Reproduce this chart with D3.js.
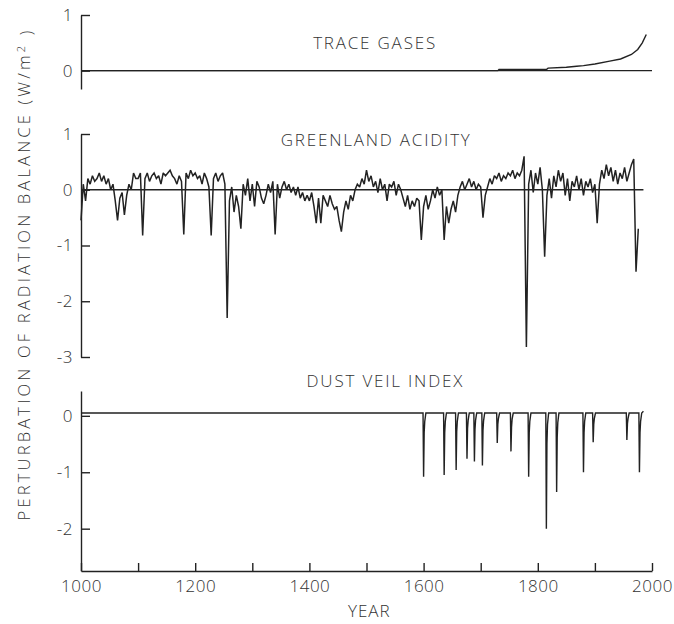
<!DOCTYPE html>
<html>
<head>
<meta charset="utf-8">
<script src="https://cdn.jsdelivr.net/npm/d3@7"></script>
<style>
  body { margin: 0; background: #fff; }
  text { font-family: "Open Sans", "DejaVu Sans", sans-serif; font-weight: 300; fill: #333; }
</style>
</head>
<body>
<script>
// ---- data ----
// trace gases forcing (W/m2)
var traceYears  = [1000, 1730, 1732, 1815, 1818, 1850, 1868, 1880, 1900, 1926, 1945, 1964, 1975, 1983, 1990];
var traceValues = [0, 0, 0.02, 0.02, 0.045, 0.06, 0.08, 0.09, 0.12, 0.17, 0.21, 0.29, 0.38, 0.5, 0.65];

// greenland acidity, one value every 4 years from 1000 to 1976
var greenlandStart = 1000, greenlandStep = 4;
var greenlandValues = [
  -0.55, 0.1, -0.2, 0.2, 0.1, 0.25, 0.15, 0.2, 0.3, 0.15, 0.25, 0.1, 0.2, 0.0, 0.1, -0.2, -0.55, -0.15, -0.05, -0.45, -0.1, 0.1, 0.0, 0.3, 0.2,
  0.2, 0.3, -0.82, 0.2, 0.3, 0.15, 0.25, 0.3, 0.2, 0.25, 0.1, 0.3, 0.25, 0.3, 0.35, 0.25, 0.2, 0.1, 0.25, 0.15, -0.8, 0.3, 0.2, 0.35, 0.25,
  0.3, 0.2, 0.25, 0.1, 0.3, 0.2, 0.05, -0.82, 0.2, 0.3, 0.15, 0.25, 0.3, 0.1, -2.3, -0.2, 0.05, -0.4, -0.1, -0.3, -0.7, 0.1, -0.1, 0.2, -0.2,
  0.1, -0.3, 0.15, 0.05, -0.15, -0.25, -0.1, 0.1, -0.05, 0.15, -0.8, 0.1, -0.15, 0.05, 0.15, 0.0, 0.1, -0.05, 0.05, -0.1, 0.05, -0.15, -0.05, -0.2, -0.1,
  -0.2, -0.05, -0.3, -0.6, -0.15, -0.6, -0.1, -0.2, -0.3, -0.1, -0.25, -0.35, -0.3, -0.55, -0.75, -0.4, -0.2, -0.35, -0.1, -0.2, 0.0, 0.1, 0.05, 0.2, 0.1,
  0.35, 0.15, 0.25, 0.05, 0.15, -0.05, 0.2, 0.0, 0.1, -0.2, 0.1, 0.05, 0.15, -0.1, 0.1, 0.0, -0.15, -0.3, -0.1, -0.35, -0.2, -0.3, -0.15, -0.2, -0.9,
  -0.3, -0.1, -0.35, -0.2, 0.0, -0.15, 0.05, -0.1, 0.0, -0.9, -0.3, -0.6, -0.35, -0.2, -0.4, -0.1, 0.05, 0.15, 0.0, 0.1, 0.2, 0.05, 0.15, 0.0, 0.1,
  0.05, -0.5, -0.1, 0.05, 0.2, 0.1, 0.25, 0.2, 0.3, 0.15, 0.25, 0.2, 0.3, 0.25, 0.35, 0.2, 0.3, 0.25, 0.35, 0.6, -2.82, 0.1, 0.35, -0.05, 0.3,
  0.1, 0.4, 0.0, -1.2, -0.1, 0.2, -0.15, 0.25, 0.05, 0.35, 0.15, 0.3, -0.1, 0.2, -0.2, 0.15, 0.05, 0.25, 0.0, 0.2, -0.1, 0.15, 0.05, 0.2, -0.05,
  0.1, -0.6, 0.1, 0.35, 0.2, 0.45, 0.25, 0.4, 0.15, 0.35, 0.1, 0.3, 0.2, 0.4, 0.15, 0.3, 0.45, 0.55, -1.47, -0.7
];

// dust veil index forcing
var dustYears = [1000,
  1599, 1600, 1601, 1602, 1604,
  1635, 1636, 1637, 1638, 1640,
  1656, 1657, 1658, 1659, 1661,
  1675, 1676, 1677, 1678, 1680,
  1688, 1689, 1690, 1691, 1693,
  1702, 1703, 1704, 1705, 1707,
  1728, 1729, 1730, 1731, 1733,
  1752, 1753, 1754, 1755, 1757,
  1783, 1784, 1785, 1786, 1788,
  1814, 1815, 1816, 1817, 1819,
  1832, 1833, 1834, 1835, 1837,
  1879, 1880, 1881, 1882, 1884,
  1896, 1897, 1898, 1899, 1901,
  1955, 1956, 1957, 1958, 1960,
  1977, 1978, 1979, 1980, 1982,
  1985];
var dustValues = [0.05,
  0.05, -1.08, -0.3, -0.1, 0.05,
  0.05, -1.05, -0.3, -0.1, 0.05,
  0.05, -0.96, -0.28, -0.1, 0.05,
  0.05, -0.76, -0.22, -0.08, 0.05,
  0.05, -0.81, -0.24, -0.08, 0.05,
  0.05, -0.88, -0.26, -0.09, 0.05,
  0.05, -0.48, -0.15, -0.05, 0.05,
  0.05, -0.63, -0.2, -0.06, 0.05,
  0.05, -1.08, -0.3, -0.1, 0.05,
  0.05, -2.0, -0.5, -0.15, 0.05,
  0.05, -1.35, -0.38, -0.12, 0.05,
  0.05, -1.0, -0.3, -0.1, 0.05,
  0.05, -0.47, -0.15, -0.05, 0.05,
  0.05, -0.43, -0.14, -0.05, 0.05,
  0.05, -1.0, -0.3, -0.1, 0.05,
  0.08];

var xTicks = [1000, 1100, 1200, 1300, 1400, 1500, 1600, 1700, 1800, 1900, 2000];
var xLabels = [1000, 1200, 1400, 1600, 1800, 2000];
var traceTicks = [0, 1];
var greenTicks = [1, 0, -1, -2, -3];
var dustTicks = [0, -1, -2];

// ---- drawing ----
var width = 674, height = 624;
var ink = '#222';

var svg = d3.select('body').append('svg')
    .attr('width', width)
    .attr('height', height);

var x = d3.scaleLinear().domain([1000, 2000]).range([81, 652]);

var yTrace = d3.scaleLinear().domain([-0.33, 1]).range([89, 15]);
var yGreen = d3.scaleLinear().domain([-3, 1]).range([357, 134]);
var yDust = d3.scaleLinear().domain([-2.75, 0.44]).range([571, 391]);

function fmt(d) { return d < 0 ? '-' + Math.abs(d) : String(d); }

function yAxis(scale, ticks) {
  var g = svg.append('g')
      .attr('transform', 'translate(' + x(1000) + ',0)')
      .call(d3.axisLeft(scale).tickValues(ticks).tickSize(-9).tickSizeOuter(0).tickPadding(8).tickFormat(fmt));
  styleAxis(g);
  return g;
}

function styleAxis(g) {
  g.selectAll('path, line').attr('stroke', ink).attr('stroke-width', 1.4);
  g.selectAll('text').attr('fill', '#333').style('font-size', '17px').style('letter-spacing', '0.5px');
}

yAxis(yTrace, traceTicks);
yAxis(yGreen, greenTicks);
yAxis(yDust, dustTicks);

var xg = svg.append('g')
    .attr('transform', 'translate(0,' + yDust(-2.75) + ')')
    .call(d3.axisBottom(x).tickValues(xTicks).tickSize(-8).tickSizeOuter(0).tickPadding(9)
      .tickFormat(function (d) { return xLabels.indexOf(d) >= 0 ? d : ''; }));
styleAxis(xg);

// zero reference lines
function zeroLine(scale, x1) {
  svg.append('line')
    .attr('x1', x(1000)).attr('x2', x(x1))
    .attr('y1', scale(0)).attr('y2', scale(0))
    .attr('stroke', ink).attr('stroke-width', 1.3);
}
zeroLine(yTrace, 2000);
zeroLine(yGreen, 1985);

// trace gases curve
var traceLine = d3.line()
    .x(function (d, i) { return x(traceYears[i]); })
    .y(function (d) { return yTrace(d); });
svg.append('path')
    .attr('d', traceLine(traceValues))
    .attr('fill', 'none').attr('stroke', ink).attr('stroke-width', 1.4);

// greenland acidity
var greenLine = d3.line()
    .x(function (d, i) { return x(greenlandStart + i * greenlandStep); })
    .y(function (d) { return yGreen(d); });
svg.append('path')
    .attr('d', greenLine(greenlandValues))
    .attr('fill', 'none').attr('stroke', ink).attr('stroke-width', 1.5)
    .attr('stroke-linejoin', 'miter').attr('stroke-miterlimit', 2);

// dust veil index
var dustLine = d3.line()
    .x(function (d, i) { return x(dustYears[i]); })
    .y(function (d) { return yDust(d); });
svg.append('path')
    .attr('d', dustLine(dustValues))
    .attr('fill', 'none').attr('stroke', ink).attr('stroke-width', 1.4);

// panel titles
var titles = [
  { text: 'TRACE GASES', year: 1515, y: 43 },
  { text: 'GREENLAND ACIDITY', year: 1517, y: 140 },
  { text: 'DUST VEIL INDEX', year: 1533, y: 381 }
];
svg.selectAll('.title')
  .data(titles)
  .enter().append('text')
    .attr('class', 'title')
    .attr('x', function (d) { return x(d.year); })
    .attr('y', function (d) { return d.y; })
    .attr('dy', '0.36em')
    .attr('text-anchor', 'middle')
    .style('font-size', '17px')
    .style('letter-spacing', '1.8px')
    .text(function (d) { return d.text; });

// x label
svg.append('text')
    .attr('x', x(1505)).attr('y', 611)
    .attr('dy', '0.36em')
    .attr('text-anchor', 'middle')
    .style('font-size', '17px')
    .style('letter-spacing', '1px')
    .text('YEAR');

// y label
var ylab = svg.append('text')
    .attr('transform', 'translate(24,274) rotate(-90)')
    .attr('text-anchor', 'middle')
    .attr('dy', '0.36em')
    .style('font-size', '16.5px')
    .style('letter-spacing', '3.2px');
ylab.append('tspan').text('PERTURBATION OF RADIATION BALANCE (W/m');
ylab.append('tspan').attr('dy', '-0.45em').style('font-size', '11px').text('2');
ylab.append('tspan').attr('dy', '0.45em').text(' )');
</script>
</body>
</html>
